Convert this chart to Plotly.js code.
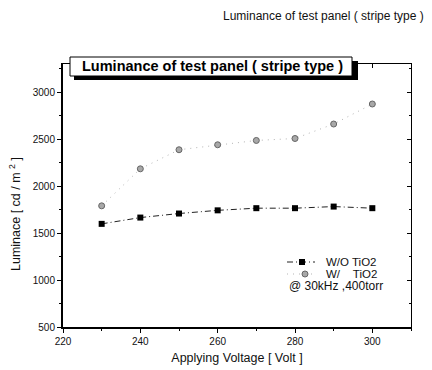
<!DOCTYPE html>
<html>
<head>
<meta charset="utf-8">
<script src="https://cdn.plot.ly/plotly-3.0.1.min.js"></script>
<style>
  html, body { margin: 0; padding: 0; background: #fff; }
  #chart { width: 432px; height: 370px; }
</style>
</head>
<body>
<div id="chart"></div>
<script>
// Applied voltage (V)
const voltage = [230, 240, 250, 260, 270, 280, 290, 300];
// Luminance (cd/m^2) without TiO2 layer
const lumNoTiO2 = [1598, 1665, 1708, 1742, 1765, 1765, 1782, 1765];
// Luminance (cd/m^2) with TiO2 layer
const lumTiO2 = [1790, 2184, 2387, 2440, 2486, 2507, 2661, 2874];

const seriesNames = ['W/O TiO2', 'W/&nbsp;&nbsp;&nbsp;&nbsp;TiO2'];
const conditionNote = '@ 30kHz ,400torr';
const panelTitle = 'Luminance of test panel ( stripe type )';
const xTitle = 'Applying Voltage [ Volt ]';
const yTitle = 'Luminace [ cd / m <sup>2</sup> ]';

const FONT = 'Liberation Sans, Arial, sans-serif';

// plot-area geometry in pixels (used for paper-coordinate decorations)
const W = 432, H = 370, ML = 63, MR = 21, MT = 64, MB = 43;
const PW = W - ML - MR, PH = H - MT - MB;
const px = v => (v - ML) / PW;
const py = v => (H - MB - v) / PH;

const traces = [
  {
    x: voltage, y: lumNoTiO2, name: seriesNames[0], type: 'scatter', mode: 'lines+markers',
    line: { color: '#222', width: 1, dash: '6px,3px,1px,3px' },
    marker: { symbol: 'square', size: 6, color: '#000' },
    showlegend: false
  },
  {
    x: voltage, y: lumTiO2, name: seriesNames[1], type: 'scatter', mode: 'lines+markers',
    line: { color: '#b5b5b5', width: 1, dash: '1px,5px' },
    marker: { symbol: 'circle', size: 6, color: '#a8a8a8', line: { color: '#666', width: 1 } },
    showlegend: false
  },
  // registers the mirrored top/right axes
  { x: [], y: [], xaxis: 'x2', yaxis: 'y2', type: 'scatter', showlegend: false, hoverinfo: 'skip' }
];

const layout = {
  width: W, height: H,
  margin: { l: ML, r: MR, t: MT, b: MB },
  paper_bgcolor: '#fff', plot_bgcolor: '#fff',
  font: { family: FONT, color: '#111', size: 10 },
  showlegend: false,
  xaxis: {
    range: [220, 310], tickvals: [220, 240, 260, 280, 300],
    ticks: 'outside', ticklen: 4, tickwidth: 1, tickcolor: '#000',
    minor: { ticks: 'outside', ticklen: 2, dtick: 10, tickcolor: '#000' },
    showline: true, linecolor: '#000', linewidth: 2, showgrid: false, zeroline: false,
    tickfont: { size: 10, family: FONT },
    title: { text: xTitle, font: { size: 12.5, family: FONT }, standoff: 7 }
  },
  yaxis: {
    range: [500, 3300], tickvals: [500, 1000, 1500, 2000, 2500, 3000],
    ticks: 'outside', ticklen: 4, tickwidth: 1, tickcolor: '#000',
    minor: { ticks: 'outside', ticklen: 2, dtick: 250, tickcolor: '#000' },
    showline: true, linecolor: '#000', linewidth: 2, showgrid: false, zeroline: false,
    tickfont: { size: 10, family: FONT }
  },
  xaxis2: {
    overlaying: 'x', side: 'top', matches: 'x', range: [220, 310],
    tickvals: [220, 240, 260, 280, 300], ticks: 'inside', ticklen: 4, tickcolor: '#000',
    showticklabels: false, showline: true, linecolor: '#000', linewidth: 1,
    showgrid: false, zeroline: false
  },
  yaxis2: {
    overlaying: 'y', side: 'right', matches: 'y', range: [500, 3300],
    tickvals: [500, 1000, 1500, 2000, 2500, 3000], ticks: 'inside', ticklen: 4, tickcolor: '#000',
    minor: { ticks: 'inside', ticklen: 2, dtick: 250, tickcolor: '#000' },
    showticklabels: false, showline: true, linecolor: '#000', linewidth: 1,
    showgrid: false, zeroline: false
  },
  shapes: [
    // framed title box with drop shadow
    { type: 'rect', xref: 'paper', yref: 'paper', layer: 'above',
      x0: px(74), x1: px(358), y0: py(80), y1: py(61),
      fillcolor: '#000', line: { width: 0 } },
    { type: 'rect', xref: 'paper', yref: 'paper', layer: 'above',
      x0: px(70), x1: px(352), y0: py(76), y1: py(57),
      fillcolor: '#fff', line: { color: '#000', width: 1 } },
    // legend keys
    { type: 'line', xref: 'paper', yref: 'paper', x0: px(287), x1: px(315), y0: py(262), y1: py(262),
      line: { color: '#222', width: 1, dash: '6px,3px,1px,3px' } },
    { type: 'rect', xref: 'paper', yref: 'paper', x0: px(299), x1: px(305), y0: py(265), y1: py(259),
      fillcolor: '#000', line: { width: 0 } },
    { type: 'line', xref: 'paper', yref: 'paper', x0: px(287), x1: px(315), y0: py(274), y1: py(274),
      line: { color: '#b5b5b5', width: 1, dash: '1px,5px' } },
    { type: 'circle', xref: 'paper', yref: 'paper', x0: px(302), x1: px(308), y0: py(277), y1: py(271),
      fillcolor: '#a8a8a8', line: { color: '#666', width: 1 } }
  ],
  annotations: [
    { text: panelTitle, xref: 'paper', yref: 'paper', x: px(426), y: py(16),
      xanchor: 'right', yanchor: 'middle', showarrow: false,
      font: { size: 12, family: FONT, color: '#111' } },
    { text: '<b>' + panelTitle + '</b>', xref: 'paper', yref: 'paper', x: px(212), y: py(66),
      xanchor: 'center', yanchor: 'middle', showarrow: false,
      font: { size: 14.5, family: FONT, color: '#000' } },
    { text: yTitle, xref: 'paper', yref: 'paper', x: px(15), y: py(214),
      xanchor: 'center', yanchor: 'middle', textangle: -90, showarrow: false,
      font: { size: 12.5, family: FONT, color: '#111' } },
    { text: seriesNames[0], xref: 'paper', yref: 'paper', x: px(324), y: py(262),
      xanchor: 'left', yanchor: 'middle', showarrow: false,
      font: { size: 11.5, family: FONT, color: '#111' } },
    { text: seriesNames[1], xref: 'paper', yref: 'paper', x: px(324), y: py(274),
      xanchor: 'left', yanchor: 'middle', showarrow: false,
      font: { size: 11.5, family: FONT, color: '#111' } },
    { text: conditionNote, xref: 'paper', yref: 'paper', x: px(287), y: py(286),
      xanchor: 'left', yanchor: 'middle', showarrow: false,
      font: { size: 12, family: FONT, color: '#111' } }
  ]
};

Plotly.newPlot('chart', traces, layout, { displayModeBar: false, staticPlot: true });
</script>
</body>
</html>
